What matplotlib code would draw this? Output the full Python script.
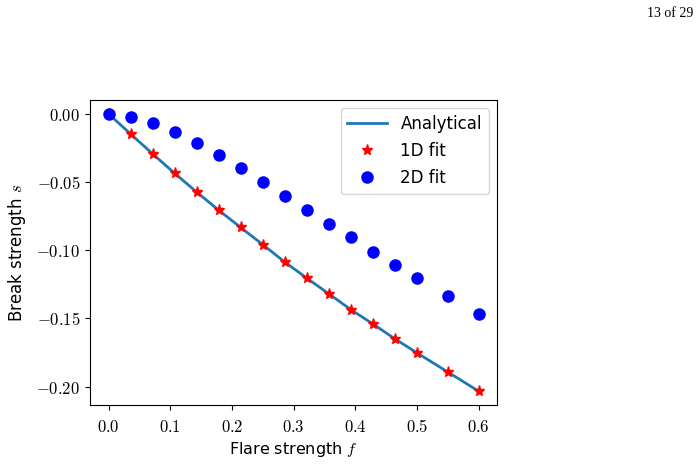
import matplotlib
matplotlib.use("Agg")
import matplotlib.pyplot as plt
from matplotlib.ticker import FuncFormatter

# flare strength values (15 evenly spaced up to 0.5, then 0.55, 0.6)
flare = [0.0, 0.0357, 0.0714, 0.1071, 0.1429, 0.1786, 0.2143, 0.25,
         0.2857, 0.3214, 0.3571, 0.3929, 0.4286, 0.4643, 0.5, 0.55, 0.6]

# break strength
analytical = [0.0, -0.0147, -0.0293, -0.0435, -0.0573, -0.0706, -0.0833, -0.0958,
              -0.1086, -0.1204, -0.1319, -0.1435, -0.1540, -0.1649, -0.1752, -0.1892, -0.2033]
fit_1d = [0.0, -0.0147, -0.0293, -0.0435, -0.0573, -0.0706, -0.0833, -0.0958,
          -0.1086, -0.1204, -0.1319, -0.1435, -0.1540, -0.1649, -0.1752, -0.1892, -0.2033]
fit_2d = [0.0, -0.0022, -0.0069, -0.0136, -0.0214, -0.0305, -0.0398, -0.0501,
          -0.0602, -0.0703, -0.0806, -0.0904, -0.1013, -0.1105, -0.1201, -0.1337, -0.1464]

plt.rcParams['mathtext.fontset'] = 'cm'
plt.rcParams['font.family'] = 'DejaVu Sans'

fig = plt.figure(figsize=(7, 4.65), dpi=100)
ax = fig.add_axes([0.1286, 0.129, 0.5814, 0.656])

ax.plot(flare, analytical, color='#1f77b4', linewidth=2, label='Analytical')
ax.plot(flare, fit_1d, 'r*', markersize=8, linestyle='none', label='1D fit')
ax.plot(flare, fit_2d, 'bo', markersize=8, linestyle='none', label='2D fit')

ax.set_xticks([0.0, 0.1, 0.2, 0.3, 0.4, 0.5, 0.6])
ax.set_yticks([0.0, -0.05, -0.10, -0.15, -0.20])
ax.xaxis.set_major_formatter(FuncFormatter(lambda v, p: f"${v:.1f}$"))
ax.yaxis.set_major_formatter(FuncFormatter(lambda v, p: f"${v:.2f}$"))
ax.tick_params(labelsize=12)
ax.tick_params(axis='x', pad=6)

ax.set_xlabel("Flare strength $f$", fontsize=11.5, labelpad=3)
ax.set_ylabel("Break strength $s$", fontsize=12, labelpad=6)
ax.legend(loc='upper right', fontsize=12, labelspacing=0.55, handlelength=2.4)

fig.text(0.99, 0.985, "13 of 29", ha='right', va='top', family='Liberation Serif', fontsize=10)

fig.savefig("out.png", dpi=100)
